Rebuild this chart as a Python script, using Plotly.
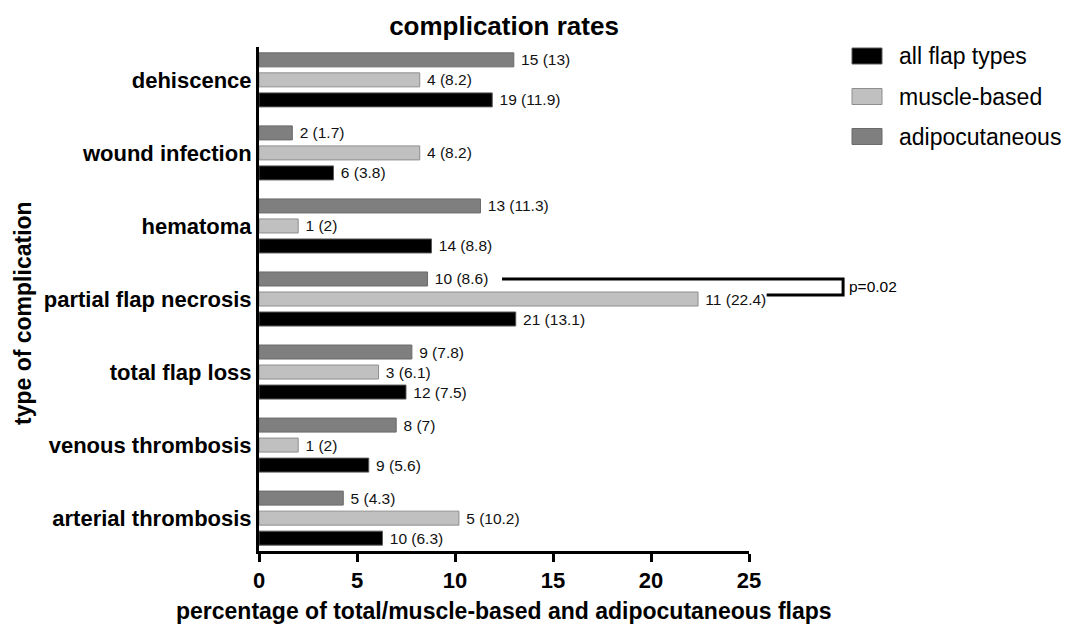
import plotly.graph_objects as go

# ---------------- data ----------------
# categories listed bottom -> top
categories = ["arterial thrombosis", "venous thrombosis", "total flap loss",
              "partial flap necrosis", "hematoma", "wound infection", "dehiscence"]
series_names = ["all flap types", "muscle-based", "adipocutaneous"]

all_pct = [6.3, 5.6, 7.5, 13.1, 8.8, 3.8, 11.9]
all_n = [10, 9, 12, 21, 14, 6, 19]
muscle_pct = [10.2, 2, 6.1, 22.4, 2, 8.2, 8.2]
muscle_n = [5, 1, 3, 11, 1, 4, 4]
adipo_pct = [4.3, 7, 7.8, 8.6, 11.3, 1.7, 13]
adipo_n = [5, 8, 9, 10, 13, 2, 15]

p_value_label = "p=0.02"

# ---------------- styling ----------------
FONT = "Liberation Sans, Arial, sans-serif"
fills = ["#000000", "#c0c0c0", "#7f7f7f"]
edges = ["#5a5a5a", "#8e8e8e", "#6a6a6a"]

W_FIG, H_FIG = 1066, 626
L, R_EDGE, T, B = 259, 749, 47, 551
PW, PH = R_EDGE - L, B - T
XMAX = 25
YMIN, YMAX = -0.45, 6.45


def px2x(px):
    return (px - L) / PW


def py2y(py):
    return (B - py) / PH


def data2y(v):
    return (v - YMIN) / (YMAX - YMIN)


fig = go.Figure()
for name, pct, n, fc, ec in zip(series_names,
                                [all_pct, muscle_pct, adipo_pct],
                                [all_n, muscle_n, adipo_n], fills, edges):
    fig.add_trace(go.Bar(
        name=name, y=categories, x=pct, orientation="h",
        marker=dict(color=fc, line=dict(color=ec, width=1)),
        text=[f" {c} ({v:g})" for c, v in zip(n, pct)],
        textposition="outside", constraintext="none", cliponaxis=False,
        textfont=dict(family=FONT, size=15.5, color="#111111"),
        showlegend=False, hoverinfo="x+y+name",
    ))

shapes = []
annotations = []

# manual legend (swatches + labels)
leg_centers = [56, 96.5, 136.5]
for name, fc, ec, cy in zip(series_names, fills, edges, leg_centers):
    shapes.append(dict(type="rect", xref="paper", yref="paper",
                       x0=px2x(852), x1=px2x(882), y0=py2y(cy + 8), y1=py2y(cy - 8),
                       fillcolor=fc, line=dict(color=ec, width=1)))
    annotations.append(dict(text=name, xref="paper", yref="paper",
                            x=px2x(897), y=py2y(cy), xanchor="left", yanchor="middle",
                            showarrow=False, font=dict(family=FONT, size=23, color="#000")))

# significance bracket for partial flap necrosis (adipocutaneous vs muscle-based)
idx = categories.index("partial flap necrosis")
slot = (1 - 0.178) / 3
y_top = data2y(idx + slot)
y_bot = data2y(idx + 0.2 * slot)
x_start_top = 12.4 / XMAX
x_start_bot = 25.9 / XMAX
x_right = 29.8 / XMAX
br_line = dict(color="#000000", width=3)
shapes.append(dict(type="path", xref="paper", yref="paper",
                   path=f"M {x_start_top},{y_top} L {x_right},{y_top} L {x_right},{y_bot} L {x_start_bot},{y_bot}",
                   line=br_line))
annotations.append(dict(text=p_value_label, xref="paper", yref="paper",
                        x=px2x(847), y=(y_top + y_bot) / 2, xanchor="left", yanchor="middle",
                        showarrow=False, font=dict(family=FONT, size=15.5, color="#000")))

# axis titles
annotations.append(dict(text="percentage of total/muscle-based and adipocutaneous flaps",
                        xref="paper", yref="paper", x=0.5, y=py2y(611),
                        xanchor="center", yanchor="middle", showarrow=False,
                        font=dict(family=FONT, size=23, color="#000", weight="bold")))
annotations.append(dict(text="type of complication", xref="paper", yref="paper",
                        x=px2x(23), y=py2y(313), xanchor="center", yanchor="middle",
                        textangle=-90, showarrow=False,
                        font=dict(family=FONT, size=23, color="#000", weight="bold")))

fig.update_layout(
    width=W_FIG, height=H_FIG,
    margin=dict(l=L, r=W_FIG - R_EDGE, t=T, b=H_FIG - B, autoexpand=False),
    paper_bgcolor="white", plot_bgcolor="white",
    barmode="group", bargap=0.178, bargroupgap=0.3,
    title=dict(text="complication rates", x=0.5, xref="paper", xanchor="center",
               y=1 - 26 / H_FIG, yref="container", yanchor="middle",
               font=dict(family=FONT, size=26, color="#000", weight="bold")),
    font=dict(family=FONT, color="#000"),
    shapes=shapes, annotations=annotations,
    xaxis=dict(range=[0, XMAX], tickvals=[0, 5, 10, 15, 20, 25], ticks="outside",
               ticklen=8, tickwidth=3, tickcolor="#000", showline=True, linewidth=3,
               linecolor="#000", showgrid=False, zeroline=False, automargin=False,
               tickfont=dict(family=FONT, size=22, color="#000", weight="bold")),
    yaxis=dict(type="category", categoryorder="array", categoryarray=categories,
               range=[YMIN, YMAX], ticks="", showline=True, linewidth=3,
               linecolor="#000", showgrid=False, zeroline=False, automargin=False,
               tickfont=dict(family=FONT, size=22, color="#000", weight="bold")),
)

fig.write_html(
    "out.html",
    config={"displayModeBar": False},
    post_script="document.body.style.margin='0';document.body.style.overflow='hidden';",
)
